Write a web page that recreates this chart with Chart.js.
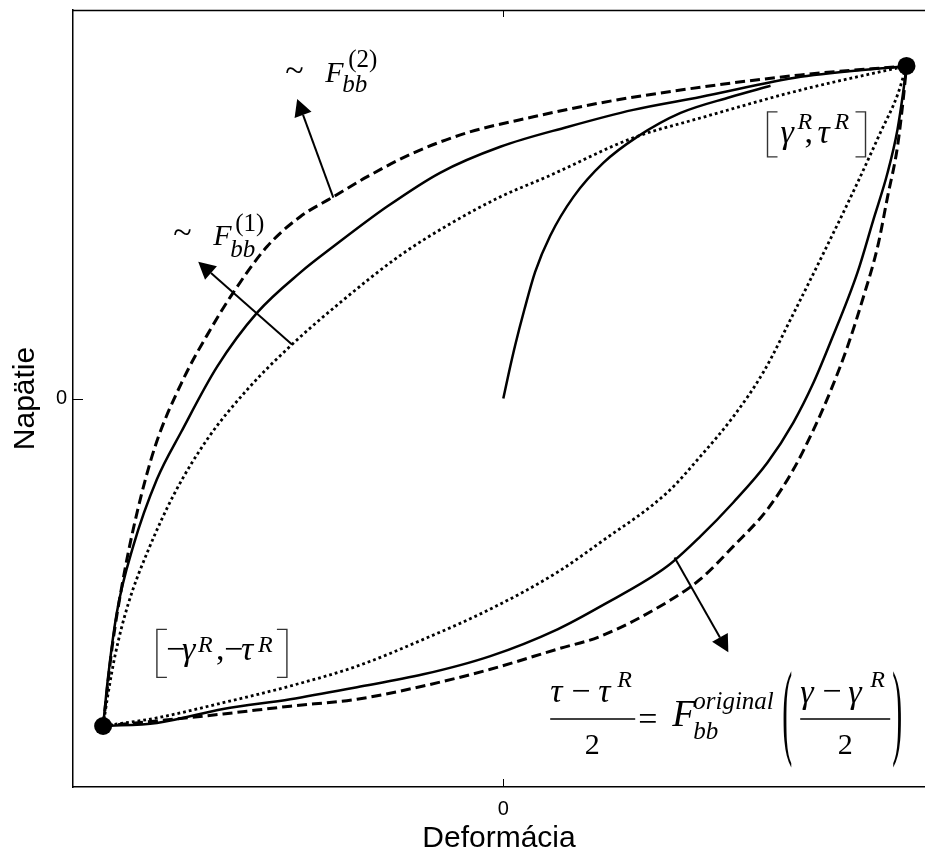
<!DOCTYPE html>
<html lang="sk">
<head>
<meta charset="UTF-8" />
<title>Napätie - Deformácia</title>
<script src="https://cdn.jsdelivr.net/npm/chart.js"></script>
<style>
  html, body { margin: 0; padding: 0; background: #fff; overflow: hidden; }
  canvas { display: block; }
</style>
</head>
<body>
<canvas id="loopChart" width="925" height="854"></canvas>
<script>
// reversal points [-gR,-tR] and [gR,tR]
const reversalX = [-0.930, 0.937];
const reversalY = [-0.843, 0.856];

// ~F(2) branches (dashed)
const f2UpX = [-0.930, -0.909, -0.884, -0.851, -0.809, -0.744, -0.681, -0.628, -0.549, -0.472, -0.395, -0.316, -0.209, -0.084, 0.070, 0.226, 0.412, 0.691, 0.937];
const f2UpY = [-0.843, -0.640, -0.468, -0.293, -0.123, 0.049, 0.177, 0.272, 0.391, 0.468, 0.519, 0.571, 0.632, 0.684, 0.725, 0.761, 0.794, 0.833, 0.856];
const f2DownX = [-0.930, -0.805, -0.651, -0.495, -0.340, -0.186, -0.030, 0.126, 0.226, 0.381, 0.458, 0.535, 0.614, 0.674, 0.721, 0.760, 0.800, 0.837, 0.870, 0.893, 0.916, 0.930, 0.937];
const f2DownY = [-0.843, -0.830, -0.812, -0.792, -0.774, -0.740, -0.697, -0.645, -0.612, -0.524, -0.465, -0.380, -0.285, -0.183, -0.080, 0.018, 0.134, 0.262, 0.391, 0.519, 0.648, 0.776, 0.856];

// ~F(1) branches (solid)
const f1UpX = [-0.930, -0.919, -0.898, -0.860, -0.805, -0.748, -0.665, -0.572, -0.472, -0.395, -0.270, -0.147, -0.007, 0.149, 0.302, 0.458, 0.691, 0.937];
const f1UpY = [-0.843, -0.722, -0.550, -0.380, -0.208, -0.085, 0.082, 0.221, 0.324, 0.391, 0.494, 0.581, 0.648, 0.699, 0.743, 0.776, 0.828, 0.856];
const f1DownX = [-0.930, -0.805, -0.651, -0.495, -0.340, -0.186, -0.030, 0.126, 0.226, 0.381, 0.458, 0.535, 0.614, 0.674, 0.721, 0.760, 0.823, 0.860, 0.893, 0.916, 0.930, 0.937];
const f1DownY = [-0.843, -0.835, -0.799, -0.774, -0.743, -0.710, -0.663, -0.594, -0.535, -0.432, -0.355, -0.267, -0.165, -0.062, 0.041, 0.144, 0.324, 0.460, 0.581, 0.692, 0.794, 0.856];

// original branches (dotted)
const origUpX = [-0.930, -0.920, -0.902, -0.872, -0.825, -0.763, -0.688, -0.595, -0.491, -0.379, -0.240, -0.123, -0.007, 0.102, 0.302, 0.458, 0.691, 0.937];
const origUpY = [-0.843, -0.770, -0.660, -0.530, -0.390, -0.242, -0.105, 0.023, 0.139, 0.247, 0.368, 0.450, 0.519, 0.571, 0.671, 0.722, 0.794, 0.856];
const origDownX = [-0.930, -0.805, -0.651, -0.495, -0.340, -0.186, -0.030, 0.126, 0.226, 0.381, 0.458, 0.535, 0.605, 0.679, 0.756, 0.823, 0.877, 0.916, 0.937];
const origDownY = [-0.843, -0.822, -0.783, -0.740, -0.689, -0.620, -0.542, -0.447, -0.370, -0.242, -0.149, -0.046, 0.069, 0.229, 0.401, 0.555, 0.686, 0.781, 0.856];

// virgin loading curve from the origin
const virginX = [0, 0.012, 0.028, 0.049, 0.074, 0.109, 0.163, 0.233, 0.312, 0.412, 0.528, 0.621];
const virginY = [0, 0.062, 0.139, 0.229, 0.326, 0.419, 0.519, 0.607, 0.674, 0.735, 0.776, 0.805];

const tickValues = [0];

const zip = (xs, ys) => xs.map((v, i) => ({ x: v, y: ys[i] }));

const serif = '"Liberation Serif", "Times New Roman", serif';
const sans = '"Liberation Sans", Arial, sans-serif';

// annotation groups: anchor in data units, pieces offset in px
const notes = [
  { at: [-0.414, 0.815], parts: [['~', -40, -1, 34, false], ['F', 0, 0, 30, true], ['bb', 17, 10, 25, true], ['(2)', 23, -15, 25, false]] },
  { at: [-0.674, 0.396], parts: [['~', -40, -2, 34, false], ['F', 0, 0, 30, true], ['bb', 17, 12, 25, true], ['(1)', 22, -14, 25, false]] },
  { at: [0.614, 0.658], box: [-31, 14, 0, 98], parts: [['γ', 13, 0, 34, true], ['R', 30, -14, 24, true], [',', 37, 0, 34, false], ['τ', 50, 0, 34, true], ['R', 67, -14, 24, true]] },
  { at: [-0.805, -0.674], box: [-31, 17, 0, 130], parts: [['−', 9, 0, 34, false], ['γ', 25, 0, 34, true], ['R', 41, -8, 24, true], [',', 59, 0, 34, false], ['−', 67, 0, 34, false], ['τ', 84, 0, 34, true], ['R', 101, -8, 24, true]] },
  { at: [0.109, -0.825],
    bars: [[0, 85], [250, 340]],
    parens: [[232, '('], [342, ')']],
    parts: [['τ', 0, -17, 34, true], ['−', 21, -17, 34, false], ['τ', 48, -17, 34, true], ['R', 67, -32, 24, true],
            ['2', 42, 35, 30, false, 'center'], ['=', 88, 11, 34, false], ['F', 122, 7, 38, true],
            ['original', 143, -10, 25, true], ['bb', 143, 20, 25, true],
            ['γ', 250, -16, 34, true], ['−', 272, -17, 34, false], ['γ', 298, -16, 34, true], ['R', 320, -32, 24, true],
            ['2', 295, 35, 30, false, 'center']] }
];

const arrows = [
  [-0.395, 0.517, -0.479, 0.771],
  [-0.491, 0.139, -0.709, 0.352],
  [0.398, -0.409, 0.523, -0.653]
];

function put(ctx, s, x, y, size, italic, align) {
  ctx.font = (italic ? 'italic ' : '') + size + 'px ' + serif;
  ctx.textAlign = align || 'left';
  ctx.textBaseline = 'alphabetic';
  ctx.fillText(s, x, y);
}

function tallGlyph(ctx, ch, x, top, bottom) {
  ctx.font = '30px ' + serif;
  const m = ctx.measureText(ch);
  const h = m.actualBoundingBoxAscent + m.actualBoundingBoxDescent;
  ctx.save();
  ctx.translate(x, top);
  ctx.scale(1, (bottom - top) / h);
  ctx.textAlign = 'left';
  ctx.textBaseline = 'alphabetic';
  ctx.fillText(ch, 0, m.actualBoundingBoxAscent);
  ctx.restore();
}

function arrow(ctx, x0, y0, x1, y1) {
  const a = Math.atan2(y1 - y0, x1 - x0);
  const L = 17, W = 9;
  const bx = x1 - L * Math.cos(a), by = y1 - L * Math.sin(a);
  ctx.lineWidth = 2;
  ctx.beginPath(); ctx.moveTo(x0, y0); ctx.lineTo(bx, by); ctx.stroke();
  ctx.beginPath();
  ctx.moveTo(x1, y1);
  ctx.lineTo(bx + W * Math.sin(a), by - W * Math.cos(a));
  ctx.lineTo(bx - W * Math.sin(a), by + W * Math.cos(a));
  ctx.closePath(); ctx.fill();
}

const decor = {
  id: 'decor',
  afterDraw(chart) {
    const { ctx, chartArea: a, scales: { x, y } } = chart;
    ctx.save();
    ctx.strokeStyle = '#000';
    ctx.fillStyle = '#000';
    // top frame line and inward ticks
    ctx.lineWidth = 1.5;
    ctx.beginPath(); ctx.moveTo(a.left, a.top + 0.5); ctx.lineTo(a.right, a.top + 0.5); ctx.stroke();
    ctx.lineWidth = 1;
    const x0 = Math.round(x.getPixelForValue(0)) + 0.5, y0 = Math.round(y.getPixelForValue(0)) + 0.5;
    ctx.beginPath();
    ctx.moveTo(x0, a.bottom); ctx.lineTo(x0, a.bottom - 8);
    ctx.moveTo(x0, a.top); ctx.lineTo(x0, a.top + 7);
    ctx.moveTo(a.left, y0); ctx.lineTo(a.left + 10, y0);
    ctx.stroke();

    arrows.forEach(r => arrow(ctx, x.getPixelForValue(r[0]), y.getPixelForValue(r[1]), x.getPixelForValue(r[2]), y.getPixelForValue(r[3])));

    notes.forEach(n => {
      const px = x.getPixelForValue(n.at[0]), py = y.getPixelForValue(n.at[1]);
      if (n.box) {
        const [t, b, l, r] = n.box;
        ctx.strokeStyle = '#333';
        ctx.lineWidth = 1.4;
        ctx.beginPath();
        ctx.moveTo(px + l + 10, py + t); ctx.lineTo(px + l, py + t); ctx.lineTo(px + l, py + b); ctx.lineTo(px + l + 10, py + b);
        ctx.moveTo(px + r - 10, py + t); ctx.lineTo(px + r, py + t); ctx.lineTo(px + r, py + b); ctx.lineTo(px + r - 10, py + b);
        ctx.stroke();
        ctx.strokeStyle = '#000';
      }
      (n.bars || []).forEach(bar => {
        ctx.lineWidth = 1.4;
        ctx.beginPath(); ctx.moveTo(px + bar[0], py); ctx.lineTo(px + bar[1], py); ctx.stroke();
      });
      (n.parens || []).forEach(p => tallGlyph(ctx, p[1], px + p[0], py - 48, py + 50));
      n.parts.forEach(p => put(ctx, p[0], px + p[1], py + p[2], p[3], p[4], p[5]));
    });
    ctx.restore();
  }
};

const line = (xs, ys, width, dash) => ({
  data: zip(xs, ys),
  showLine: true,
  borderColor: '#000',
  borderWidth: width,
  borderDash: dash,
  borderCapStyle: 'butt',
  pointRadius: 0,
  cubicInterpolationMode: 'monotone',
  fill: false
});

new Chart(document.getElementById('loopChart'), {
  type: 'scatter',
  data: {
    datasets: [
      { data: zip(reversalX, reversalY), pointRadius: 9, pointBackgroundColor: '#000', pointBorderWidth: 0, showLine: false },
      line(virginX, virginY, 2.5, []),
      line(f2UpX, f2UpY, 3, [10, 5]),
      line(f2DownX, f2DownY, 3, [10, 5]),
      line(f1UpX, f1UpY, 2.5, []),
      line(f1DownX, f1DownY, 2.5, []),
      line(origUpX, origUpY, 2.8, [2.8, 3]),
      line(origDownX, origDownY, 2.8, [2.8, 3])
    ]
  },
  options: {
    responsive: false,
    animation: false,
    layout: { autoPadding: false, padding: { top: 10, right: 0, left: 0, bottom: 0 } },
    plugins: { legend: { display: false }, tooltip: { enabled: false } },
    scales: {
      x: {
        min: -1, max: 0.98,
        afterBuildTicks: s => { s.ticks = tickValues.map(v => ({ value: v })); },
        afterFit: s => { s.height = 67; s.paddingLeft = 0; s.paddingRight = 0; },
        grid: { display: false, drawTicks: false },
        border: { display: true, color: '#000', width: 1.5 },
        ticks: { color: '#000', padding: 10, font: { family: sans, size: 20 } },
        title: { display: true, text: 'Deformácia', color: '#000', padding: { top: 0, bottom: 0 }, font: { family: sans, size: 30, lineHeight: 1 } }
      },
      y: {
        min: -1, max: 1,
        afterBuildTicks: s => { s.ticks = tickValues.map(v => ({ value: v })); },
        afterFit: s => { s.width = 73; s.paddingTop = 0; s.paddingBottom = 0; },
        grid: { display: false, drawTicks: false },
        border: { display: true, color: '#000', width: 1.5 },
        ticks: { color: '#000', padding: 6, font: { family: sans, size: 20 } },
        title: { display: true, text: 'Napätie', color: '#000', padding: { top: 11, bottom: 0 }, font: { family: sans, size: 30, lineHeight: 1 } }
      }
    }
  },
  plugins: [decor]
});
</script>
</body>
</html>
